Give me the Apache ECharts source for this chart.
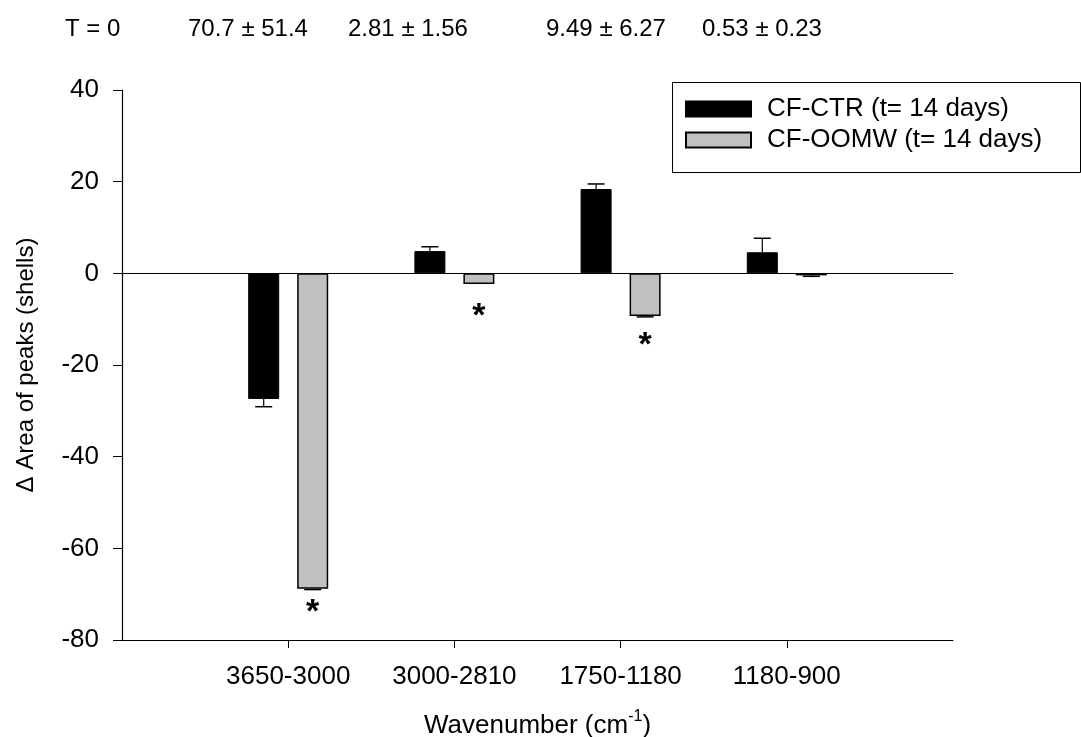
<!DOCTYPE html>
<html>
<head>
<meta charset="utf-8">
<script src="https://cdn.jsdelivr.net/npm/echarts@6/dist/echarts.min.js"></script>
<style>
  html, body { margin: 0; padding: 0; background: #fff; }
  #chart { width: 1081px; height: 737px; }
</style>
</head>
<body>
<div id="chart"></div>
<script>
// Wavenumber bands (cm-1)
const categories = ['3650-3000', '3000-2810', '1750-1180', '1180-900'];

// Change in peak area after 14 days, with standard error
const ctrName = 'CF-CTR (t= 14 days)';
const ctrValues = [-27.4, 4.85, 18.4, 4.6];
const ctrErrors = [1.7, 0.95, 1.1, 3.05];

const oomwName = 'CF-OOMW (t= 14 days)';
const oomwValues = [-68.8, -2.3, -9.3, -0.45];
const oomwErrors = [0.2, 0, 0.2, 0.2];

// Significance marks (value at which the asterisk sits, null = none)
const sigMarks = [-73.0, -8.4, -14.6, null];

// Initial values (T = 0) printed above the plot
const initialLabels = ['T = 0', '70.7 ± 51.4', '2.81 ± 1.56', '9.49 ± 6.27', '0.53 ± 0.23'];
const initialLabelX = [65, 188, 348, 546, 702];

const yMin = -80, yMax = 40, yStep = 20;

const FONT = 'Liberation Sans, Arial, sans-serif';
const BAR_W = 31;
const BAR_GAP = 18;
const OFFSET = (BAR_W + BAR_GAP) / 2;

// Category axis padded with an empty slot on each side
const axisCats = [''].concat(categories, ['']);
const pad = arr => [null].concat(arr, [null]);

const ctrErrData = ctrValues.map((v, i) => [i + 1, v, ctrErrors[i]]);
const oomwErrData = oomwValues.map((v, i) => [i + 1, v, oomwErrors[i]]);
const sigData = sigMarks.map((v, i) => v === null ? null : [i + 1, v]).filter(d => d);

function errorBar(offset) {
  return function (params, api) {
    const idx = api.value(0), v = api.value(1), e = api.value(2);
    if (!(e > 0)) return null;
    const p0 = api.coord([idx, v]);
    const p1 = api.coord([idx, v >= 0 ? v + e : v - e]);
    const x = p0[0] + offset;
    return {
      type: 'group',
      children: [
        { type: 'line', shape: { x1: x, y1: p0[1], x2: x, y2: p1[1] },
          style: { stroke: '#000', lineWidth: 1.2 } },
        { type: 'line', shape: { x1: x - 8.5, y1: p1[1], x2: x + 8.5, y2: p1[1] },
          style: { stroke: '#000', lineWidth: 1.5 } }
      ]
    };
  };
}

const chart = echarts.init(document.getElementById('chart'), null, { renderer: 'canvas' });

chart.setOption({
  animation: false,
  backgroundColor: '#fff',
  grid: { left: 122, right: 128, top: 90, bottom: 97, containLabel: false, outerBoundsMode: 'none' },
  legend: {
    orient: 'vertical',
    left: 670,
    top: 80,
    padding: [16, 14, 20, 15],
    itemWidth: 65,
    itemHeight: 15,
    itemGap: 5,
    icon: 'rect',
    selectedMode: false,
    data: [ctrName, oomwName],
    textStyle: { fontFamily: FONT, fontSize: 26, color: '#000', padding: [0, 0, 0, 11] }
  },
  graphic: [
    { type: 'rect', left: 670, top: 80, shape: { width: 408, height: 90 },
      style: { fill: 'none', stroke: '#000', lineWidth: 1 }, silent: true }
  ].concat(initialLabels.map((t, i) => ({
    type: 'text', left: initialLabelX[i], top: 17,
    style: { text: t, font: '24px ' + FONT, fill: '#000' }
  }))),
  xAxis: {
    type: 'category',
    data: axisCats,
    boundaryGap: false,
    name: '{a|Wavenumber (cm}{s|-1}{a|)}',
    nameLocation: 'middle',
    nameGap: 69,
    nameTextStyle: {
      rich: {
        a: { fontFamily: FONT, fontSize: 26, color: '#000', lineHeight: 30, verticalAlign: 'bottom' },
        s: { fontFamily: FONT, fontSize: 16, color: '#000', lineHeight: 30, verticalAlign: 'top' }
      }
    },
    axisLine: { show: true, onZero: false, lineStyle: { color: '#000', width: 1.2 } },
    axisTick: {
      show: true, inside: false, length: 8, alignWithLabel: true,
      interval: (i) => i > 0 && i < axisCats.length - 1,
      lineStyle: { color: '#000', width: 1 }
    },
    axisLabel: {
      interval: 0, margin: 24,
      fontFamily: FONT, fontSize: 26, color: '#000'
    },
    splitLine: { show: false }
  },
  yAxis: {
    type: 'value',
    min: yMin, max: yMax, interval: yStep,
    name: 'Δ Area of peaks (shells)',
    nameLocation: 'middle',
    nameRotate: 90,
    nameGap: 84,
    nameTextStyle: { fontFamily: FONT, fontSize: 24, color: '#000' },
    axisLine: { show: true, lineStyle: { color: '#000', width: 1.2 } },
    axisTick: { show: true, inside: false, length: 9, lineStyle: { color: '#000', width: 1 } },
    axisLabel: { margin: 23, fontFamily: FONT, fontSize: 26, color: '#000' },
    splitLine: { show: false }
  },
  series: [
    {
      name: ctrName,
      type: 'bar',
      data: pad(ctrValues),
      barWidth: BAR_W,
      barGap: (BAR_GAP / BAR_W * 100).toFixed(1) + '%',
      itemStyle: { color: '#000', borderColor: '#000', borderWidth: 1 },
      markLine: {
        silent: true, symbol: 'none', label: { show: false },
        lineStyle: { color: '#000', width: 1.2, type: 'solid' },
        data: [{ yAxis: 0 }]
      },
      z: 2
    },
    {
      name: oomwName,
      type: 'bar',
      data: pad(oomwValues),
      barWidth: BAR_W,
      itemStyle: { color: '#c0c0c0', borderColor: '#000', borderWidth: 1.5 },
      z: 2
    },
    {
      type: 'custom',
      name: 'ctrErr',
      data: ctrErrData,
      encode: { x: 0, y: 1 },
      renderItem: errorBar(-OFFSET),
      silent: true,
      z: 3
    },
    {
      type: 'custom',
      name: 'oomwErr',
      data: oomwErrData,
      encode: { x: 0, y: 1 },
      renderItem: errorBar(OFFSET),
      silent: true,
      z: 3
    },
    {
      type: 'custom',
      name: 'sig',
      data: sigData,
      encode: { x: 0, y: 1 },
      silent: true,
      renderItem: function (params, api) {
        const p = api.coord([api.value(0), api.value(1)]);
        // the asterisk glyph sits high in its line box, so drop it to centre on the point
        return {
          type: 'text',
          x: p[0] + OFFSET,
          y: p[1] + 5,
          style: {
            text: '*', font: 'bold 34px ' + FONT, fill: '#000',
            align: 'center', verticalAlign: 'middle'
          }
        };
      },
      z: 3
    }
  ]
});
</script>
</body>
</html>
